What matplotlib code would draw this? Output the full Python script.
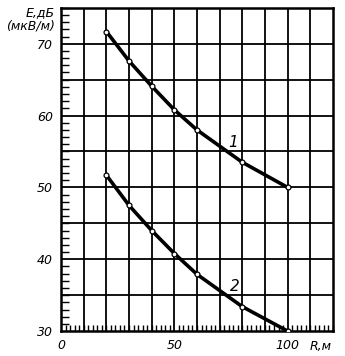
import numpy as np
import matplotlib.pyplot as plt
from matplotlib.ticker import MultipleLocator, FixedLocator

# Данные
R = [20, 30, 40, 50, 60, 80, 100]
E1 = [71.7, 67.6, 64.1, 60.8, 58.0, 53.5, 50.0]
E2 = [51.7, 47.5, 44.0, 40.8, 37.9, 33.4, 30.0]

x_labels = [0, 50, 100]
y_labels = [30, 40, 50, 60, 70]

plt.rcParams['font.family'] = ['DejaVu Sans']

fig = plt.figure(figsize=(3.45, 3.56), dpi=100)
ax = fig.add_axes([0.177, 0.070, 0.788, 0.908])

ax.set_xlim(0, 120)
ax.set_ylim(30, 75)

# сетка
for xv in np.arange(10, 120, 10):
    ax.axvline(xv, color='black', lw=1.3, zorder=1)
for yv in np.arange(35, 75, 5):
    ax.axhline(yv, color='black', lw=1.3, zorder=1)

ax.plot(R, E1, color='black', lw=2.6, marker='o', ms=3.5, mfc='white', mec='black', mew=0.9, zorder=3)
ax.plot(R, E2, color='black', lw=2.6, marker='o', ms=3.5, mfc='white', mec='black', mew=0.9, zorder=3)

ax.text(76, 56.2, '1', fontsize=11, style='italic', ha='center', va='center')
ax.text(76.5, 36.2, '2', fontsize=11, style='italic', ha='center', va='center')

ax.xaxis.set_major_locator(FixedLocator(x_labels))
ax.yaxis.set_major_locator(FixedLocator(y_labels))
ax.xaxis.set_minor_locator(MultipleLocator(2))
ax.yaxis.set_minor_locator(MultipleLocator(1))
ax.tick_params(which='major', length=0, labelsize=9, pad=6)
ax.tick_params(which='minor', direction='in', length=4, width=1)
ax.tick_params(axis='y', which='minor', length=6)
for lab in ax.get_xticklabels() + ax.get_yticklabels():
    lab.set_fontstyle('italic')

for sp in ax.spines.values():
    sp.set_linewidth(1.8)

fig.text(0.159, 0.965, 'E,дБ', fontsize=9, style='italic', ha='right', va='center')
fig.text(0.159, 0.928, '(мкВ/м)', fontsize=9, style='italic', ha='right', va='center')
fig.text(0.93, 0.028, 'R,м', fontsize=9, style='italic', ha='center', va='center')

fig.savefig('out.png', dpi=100)
